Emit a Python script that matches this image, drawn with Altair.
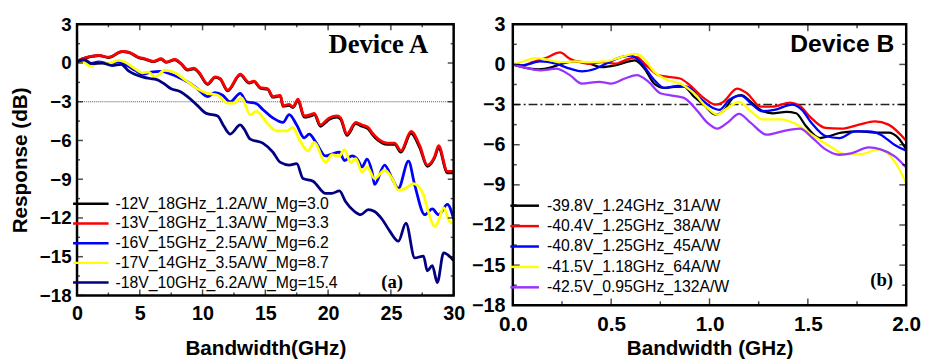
import altair as alt
import pandas as pd

FONT = "Liberation Sans"
SERIF = "Liberation Serif"

# ---------------- Panel (a): Device A ----------------
A_LABELS = [
    "-12V_18GHz_1.2A/W_Mg=3.0",
    "-13V_18GHz_1.3A/W_Mg=3.3",
    "-16V_15GHz_2.5A/W_Mg=6.2",
    "-17V_14GHz_3.5A/W_Mg=8.7",
    "-18V_10GHz_6.2A/W_Mg=15.4",
]
A_COLORS = ["#000000", "#ff0000", "#0000ff", "#ffff00", "#000080"]

a_red_x = [0, 0.4, 1.75, 2.5, 3.6, 4.1, 4.9, 5.4, 6.1, 6.7, 7.1, 7.8, 8.3, 8.8, 9.3, 9.7, 10.4, 11.0, 11.4, 12.0,
           13.0, 13.7, 14.1, 14.6, 15.2, 15.6, 16.2, 16.4, 16.9, 17.2, 17.6, 18.1, 18.6, 18.9, 19.4, 19.8, 20.1,
           20.7, 21.0, 21.5, 22.2, 22.7, 23.2, 23.5, 24.0, 24.7, 25.3, 25.8, 26.6, 27.3, 27.9, 28.5, 28.8, 29.5, 30]
a_red_y = [0.1, 0.33, 0.6, 0.45, 0.9, 0.85, 0.45, 0.33, 0.13, 0.33, 0.08, 0.28, -0.05, -0.5, -0.4, -0.7, -1.6,
           -1.07, -1.2, -2.1, -0.87, -1.5, -1.4, -1.9, -2.0, -2.6, -2.5, -3.3, -3.2, -3.4, -2.8, -4.1, -4.0, -3.9,
           -4.8, -4.5, -4.25, -4.1, -4.25, -5.5, -4.6, -4.8, -5.0, -5.4, -5.9, -6.2, -6.2, -6.8, -5.3, -6.4, -7.9,
           -7.2, -6.4, -8.4, -8.4]
a_black_x = a_red_x
a_black_y = [0.1, 0.3, 0.58, 0.42, 0.88, 0.82, 0.42, 0.3, 0.1, 0.3, 0.05, 0.25, -0.08, -0.55, -0.45, -0.75, -1.65,
             -1.12, -1.25, -2.15, -0.92, -1.55, -1.45, -1.95, -2.05, -2.65, -2.55, -3.35, -3.28, -3.45, -2.9, -4.2,
             -4.1, -4.0, -4.9, -4.6, -4.35, -4.2, -4.35, -5.6, -4.7, -4.9, -5.1, -5.5, -6.0, -6.3, -6.3, -6.9, -5.45,
             -6.55, -8.0, -7.3, -6.55, -8.5, -8.5]
a_blue_x = [0, 0.4, 1.0, 1.75, 2.5, 3.3, 4.0, 4.6, 5.2, 5.9, 6.7, 7.5, 8.0, 8.8, 9.6, 10.4, 11.0, 11.6, 12.2, 13.0,
            13.5, 14.3, 14.8, 15.6, 16.4, 16.9, 17.5, 18.1, 18.5, 19.0, 19.8, 20.3, 20.9, 21.3, 21.9, 22.4, 22.7,
            23.1, 23.5, 23.7, 24.5, 25.1, 25.6, 26.4, 26.9, 27.7, 28.3, 28.8, 29.5, 30]
a_blue_y = [0.1, 0.25, -0.05, 0.08, -0.05, 0.08, -0.2, -0.55, -0.87, -0.7, -0.65, -0.87, -1.07, -1.45, -2.0, -2.6,
            -2.3, -2.5, -3.0, -2.35, -3.0, -3.15, -3.6, -4.25, -4.6, -4.0, -4.8, -5.8, -5.5, -6.1, -7.2, -7.05, -6.9,
            -7.55, -7.2, -7.55, -8.05, -7.45, -8.45, -9.4, -7.9, -8.95, -9.7, -7.6, -9.45, -11.75, -11.3, -11.75,
            -10.95, -12.1]
a_yellow_x = [0, 0.4, 1.1, 1.75, 2.5, 3.3, 3.8, 4.6, 5.2, 5.7, 6.2, 7.0, 7.8, 8.6, 9.6, 10.4, 11.2, 12.0, 12.5,
              13.1, 13.8, 14.3, 15.1, 15.9, 16.7, 17.2, 17.7, 18.4, 18.9, 19.8, 20.3, 20.9, 21.3, 21.8, 22.2, 22.7,
              23.1, 23.7, 24.5, 25.1, 25.6, 26.1, 26.8, 27.6, 27.9, 28.5, 28.8, 29.2, 29.7, 30]
a_yellow_y = [0.1, 0.1, -0.25, 0, -0.05, 0.2, 0.08, -0.43, -0.76, -0.7, -1.07, -0.56, -0.76, -1.3, -2.0, -2.35,
              -2.5, -3.1, -3.1, -2.7, -4.0, -3.75, -4.6, -5.25, -5.25, -5.0, -5.9, -6.8, -6.15, -7.7, -7.1, -7.2,
              -6.7, -7.7, -7.4, -8.45, -8.05, -8.95, -8.3, -8.95, -9.85, -9.75, -9.35, -10.2, -11.25, -12.65, -12.2,
              -11.2, -12.3, -12.4]
a_navy_x = [0, 0.6, 1.2, 2.0, 2.8, 3.5, 4.1, 4.6, 5.2, 5.8, 6.3, 6.9, 7.5, 8.2, 8.8, 9.6, 10.3, 11.2, 11.7, 12.2,
            13.0, 13.3, 13.8, 14.8, 15.6, 16.2, 16.9, 17.5, 18.0, 18.8, 19.8, 20.3, 20.9, 21.4, 22.1, 22.6, 23.2,
            23.7, 24.3, 24.9, 25.6, 26.2, 26.9, 27.6, 27.9, 28.3, 28.7, 29.2, 30]
a_navy_y = [0.1, 0.25, -0.05, 0, -0.2, -0.1, -0.6, -0.87, -1.07, -1.2, -1.27, -1.58, -2.0, -2.2, -2.6, -3.3, -3.9,
            -4.1, -4.9, -5.5, -4.8, -5.1, -5.9, -6.2, -6.9, -7.7, -7.9, -7.8, -8.95, -9.15, -10.1, -10.1, -9.9,
            -10.75, -11.5, -11.75, -11.35, -11.5, -12.1, -13.0, -13.8, -12.4, -15.1, -14.95, -16.1, -15.7, -17.0,
            -14.7, -15.3]

# ---------------- Panel (b): Device B ----------------
B_LABELS = [
    "-39.8V_1.24GHz_31A/W",
    "-40.4V_1.25GHz_38A/W",
    "-40.8V_1.25GHz_45A/W",
    "-41.5V_1.18GHz_64A/W",
    "-42.5V_0.95GHz_132A/W",
]
B_COLORS = ["#000000", "#ff0000", "#0000ff", "#ffff00", "#9933ff"]

b_black_x = [0, 0.05, 0.13, 0.2, 0.25, 0.32, 0.39, 0.45, 0.52, 0.59, 0.62, 0.67, 0.72, 0.77, 0.82, 0.87, 0.92,
             0.97, 1.03, 1.07, 1.12, 1.16, 1.21, 1.26, 1.32, 1.39, 1.44, 1.49, 1.56, 1.61, 1.67, 1.76, 1.84, 1.91,
             1.96, 2.0]
b_black_y = [0, -0.2, -0.37, -0.2, 0.05, 0.22, 0.05, -0.2, -0.07, 0.22, 0.3, -0.32, -1.45, -1.75, -1.67, -1.65,
             -2.4, -3.0, -3.75, -3.5, -2.5, -2.3, -2.8, -3.4, -3.65, -3.55, -3.65, -4.6, -5.5, -5.35, -5.1, -5.0,
             -5.1, -5.1, -5.5, -6.35]
b_red_x = [0, 0.05, 0.1, 0.17, 0.24, 0.29, 0.34, 0.39, 0.45, 0.52, 0.59, 0.63, 0.67, 0.74, 0.79, 0.85, 0.9, 0.97,
           1.03, 1.07, 1.14, 1.19, 1.26, 1.32, 1.41, 1.46, 1.51, 1.59, 1.67, 1.76, 1.84, 1.91, 2.0]
b_red_y = [0, -0.07, 0.17, 0.5, 0.9, 0.42, 0.17, 0.05, 0.17, 0.05, 0.42, 0.54, 0.05, -0.8, -0.93, -1.05, -1.55,
           -2.5, -3.0, -2.8, -1.8, -2.15, -3.15, -3.15, -2.85, -3.1, -3.9, -4.75, -4.8, -4.5, -4.25, -4.5, -5.7]
b_blue_x = [0, 0.05, 0.14, 0.22, 0.29, 0.35, 0.42, 0.49, 0.55, 0.6, 0.65, 0.72, 0.77, 0.84, 0.89, 0.95, 1.02,
            1.05, 1.1, 1.16, 1.21, 1.27, 1.33, 1.42, 1.47, 1.52, 1.59, 1.66, 1.74, 1.81, 1.87, 1.94, 2.0]
b_blue_y = [0, -0.07, 0.22, 0.05, -0.32, -0.52, -0.32, 0.17, 0.54, 0.66, 0.17, -1.18, -1.75, -1.6, -1.67, -2.5,
            -3.27, -3.4, -2.65, -2.33, -2.9, -3.5, -3.4, -3.0, -3.4, -4.4, -5.35, -5.5, -5.0, -5.0, -5.25, -6.0,
            -6.45]
b_yellow_x = [0, 0.05, 0.12, 0.19, 0.25, 0.32, 0.39, 0.47, 0.55, 0.62, 0.66, 0.72, 0.79, 0.85, 0.92, 0.99, 1.04,
              1.09, 1.15, 1.21, 1.27, 1.36, 1.44, 1.52, 1.61, 1.69, 1.77, 1.86, 1.91, 1.96, 2.0]
b_yellow_y = [0, 0.22, 0.47, 0.3, 0.17, 0.22, 0.17, 0.22, 0.54, 0.78, 0.54, -0.57, -1.18, -1.43, -2.15, -3.27,
              -3.75, -3.27, -2.8, -3.5, -4.1, -4.1, -4.45, -5.25, -6.1, -6.7, -6.7, -6.35, -6.7, -7.7, -8.9]
b_purple_x = [0, 0.05, 0.14, 0.22, 0.29, 0.35, 0.44, 0.5, 0.57, 0.63, 0.69, 0.75, 0.82, 0.87, 0.94, 0.99, 1.04,
              1.09, 1.15, 1.21, 1.29, 1.37, 1.46, 1.52, 1.59, 1.66, 1.72, 1.81, 1.87, 1.94, 2.0]
b_purple_y = [0, -0.2, -0.44, -0.32, -0.8, -1.43, -1.3, -1.43, -1.05, -0.8, -1.3, -2.15, -2.35, -2.5, -3.5, -4.37,
              -4.8, -4.37, -3.7, -4.37, -5.25, -5.0, -4.8, -5.45, -6.35, -6.75, -6.65, -6.2, -6.35, -6.85, -7.7]

# axis ranges and tick values
Y_DOMAIN = [-18, 3]
Y_MAJOR = [-18, -15, -12, -9, -6, -3, 0, 3]
Y_MINOR = [-16.5, -13.5, -10.5, -7.5, -4.5, -1.5, 1.5]
A_X_DOMAIN = [0, 30]
A_X_MAJOR = [0, 5, 10, 15, 20, 25, 30]
A_X_MINOR = [2.5, 7.5, 12.5, 17.5, 22.5, 27.5]
B_X_DOMAIN = [0, 2]
B_X_MAJOR = [0.0, 0.5, 1.0, 1.5, 2.0]
B_X_MINOR = [0.25, 0.75, 1.25, 1.75]
REF_DB = [-3]

# legend line symbol: a wide horizontal segment (drawn scaled by sqrt(size)/2)
LEG_PATH = "M-4,0H4"


def long_df(labels, xs_list, ys_list):
    rows = []
    for i, (lab, xs, ys) in enumerate(zip(labels, xs_list, ys_list)):
        for x, y in zip(xs, ys):
            rows.append({"f": x, "r": y, "s": lab, "k": i})
    return pd.DataFrame(rows)


dfa = long_df(A_LABELS, [a_black_x, a_red_x, a_blue_x, a_yellow_x, a_navy_x],
              [a_black_y, a_red_y, a_blue_y, a_yellow_y, a_navy_y])
dfb = long_df(B_LABELS, [b_black_x, b_red_x, b_blue_x, b_yellow_x, b_purple_x],
              [b_black_y, b_red_y, b_blue_y, b_yellow_y, b_purple_y])


def panel(df, labels, colors, xdom, xmaj, xmin_, w, h, xtitle, ytitle, xlab_size, ylab_size,
          xlab_pad, ylab_pad, xtitle_pad, sym_len, leg_x, leg_y, row_pad, lab_off, line_w,
          ref_dash, ref_color, ref_w, dev_text, dev_font, dev_size, dev_x, dev_y, tag, tag_x, tag_y,
          tmaj, tmin):
    xs = alt.Scale(domain=xdom, nice=False, zero=False)
    ys = alt.Scale(domain=Y_DOMAIN, nice=False, zero=False)
    base = alt.Chart(df)

    common = dict(grid=False, domain=False, ticks=False, labelFont=FONT, labelFontWeight="bold",
                  labelColor="black", labelFlush=False, labelOverlap=False)
    xaxis_kw = dict(orient="bottom", values=xmaj, labelFontSize=xlab_size, labelPadding=xlab_pad,
                    title=xtitle, titleFont=FONT, titleFontSize=21, titleFontWeight="bold",
                    titleColor="black", titlePadding=xtitle_pad, **common)
    yaxis_kw = dict(orient="left", values=Y_MAJOR, labelFontSize=ylab_size, labelPadding=ylab_pad,
                    **common)
    if ytitle:
        yaxis_kw.update(title=ytitle, titleFont=FONT, titleFontSize=21, titleFontWeight="bold",
                        titleColor="black", titlePadding=9)
    else:
        yaxis_kw.update(title=None)

    side = sym_len / 4.0
    lines = base.mark_line(clip=True, strokeWidth=line_w, interpolate="monotone").encode(
        x=alt.X("f:Q", scale=xs, axis=alt.Axis(**xaxis_kw)),
        y=alt.Y("r:Q", scale=ys, axis=alt.Axis(**yaxis_kw)),
        color=alt.Color("s:N", scale=alt.Scale(domain=labels, range=colors),
                        legend=alt.Legend(orient="none", legendX=leg_x, legendY=leg_y, title=None,
                                          symbolType=LEG_PATH, symbolSize=side * side,
                                          symbolStrokeWidth=2.5, labelFont=FONT, labelFontSize=16,
                                          labelColor="black", labelOffset=lab_off, rowPadding=row_pad,
                                          padding=0, labelLimit=400)),
        order=alt.Order("k:Q"),
    )

    # inward tick marks on all four sides, drawn from the tick value lists
    ticks = []
    for vals, sz in [(xmaj, tmaj), (xmin_, tmin)]:
        tdf = alt.Chart(pd.DataFrame({"v": vals}))
        ticks.append(tdf.mark_tick(orient="vertical", size=sz, thickness=1.5, color="black",
                                   yOffset=-sz / 2.0).encode(
            x=alt.X("v:Q", scale=xs, axis=None), y=alt.YDatum(Y_DOMAIN[0], axis=None)))
        ticks.append(tdf.mark_tick(orient="vertical", size=sz, thickness=1.5, color="black",
                                   yOffset=sz / 2.0).encode(
            x=alt.X("v:Q", scale=xs, axis=None), y=alt.YDatum(Y_DOMAIN[1], axis=None)))
    for vals, sz in [(Y_MAJOR, tmaj), (Y_MINOR, tmin)]:
        tdf = alt.Chart(pd.DataFrame({"v": vals}))
        ticks.append(tdf.mark_tick(orient="horizontal", size=sz, thickness=1.5, color="black",
                                   xOffset=sz / 2.0).encode(
            y=alt.Y("v:Q", scale=ys, axis=None), x=alt.XDatum(xdom[0], axis=None)))
        ticks.append(tdf.mark_tick(orient="horizontal", size=sz, thickness=1.5, color="black",
                                   xOffset=-sz / 2.0).encode(
            y=alt.Y("v:Q", scale=ys, axis=None), x=alt.XDatum(xdom[1], axis=None)))

    frame = alt.Chart(pd.DataFrame({"t": ["frame"]})).mark_rect(
        filled=False, stroke="black", strokeWidth=2.5, fillOpacity=0
    ).encode(x=alt.XDatum(xdom[0], axis=None), x2=alt.X2Datum(xdom[1]),
             y=alt.YDatum(Y_DOMAIN[0], axis=None), y2=alt.Y2Datum(Y_DOMAIN[1]))

    ref = alt.Chart(pd.DataFrame({"v": REF_DB})).mark_rule(
        strokeDash=ref_dash, color=ref_color, strokeWidth=ref_w
    ).encode(y=alt.Y("v:Q", scale=ys, axis=None))

    dev = alt.Chart(pd.DataFrame({"t": [dev_text]})).mark_text(
        font=dev_font, fontWeight="bold", fontSize=dev_size, color="black"
    ).encode(x=alt.XDatum(dev_x, axis=None), y=alt.YDatum(dev_y, axis=None), text="t:N")

    tg = alt.Chart(pd.DataFrame({"t": [tag]})).mark_text(
        font=SERIF, fontWeight="bold", fontSize=19, color="black"
    ).encode(x=alt.XDatum(tag_x, axis=None), y=alt.YDatum(tag_y, axis=None), text="t:N")

    return alt.layer(ref, lines, *ticks, frame, dev, tg).resolve_axis(
        x="independent", y="independent").properties(width=w, height=h)


pa = panel(dfa, A_LABELS, A_COLORS, A_X_DOMAIN, A_X_MAJOR, A_X_MINOR, 382, 275,
           "Bandwidth(GHz)", "Response (dB)", 20, 19, 8, 6, 15, 36, 6, 174, 4, 17, 2.8,
           [1, 1], "#555555", 1.2, "Device A", SERIF, 27, 24.0, 1.37, "(a)", 25.1, -17.0, 6, 3)
pb = panel(dfb, B_LABELS, B_COLORS, B_X_DOMAIN, B_X_MAJOR, B_X_MINOR, 399, 285,
           "Bandwidth (GHz)", None, 21, 20, 9, 8, 3, 29, 4, 176, 4.7, 14.6, 2.3,
           [9, 3, 2, 3], "#222222", 1.5, "Device B", FONT, 25, 1.675, 1.55, "(b)", 1.875, -16.1, 7, 4)

chart = alt.hconcat(pa, pb, spacing=60, bounds="flush").resolve_scale(
    color="independent").resolve_legend(color="independent").properties(
    padding={"left": 1, "top": 4, "right": 0, "bottom": 0}
).configure_view(stroke=None)

chart.save("out.html", embed_options={"renderer": "svg", "actions": False})
